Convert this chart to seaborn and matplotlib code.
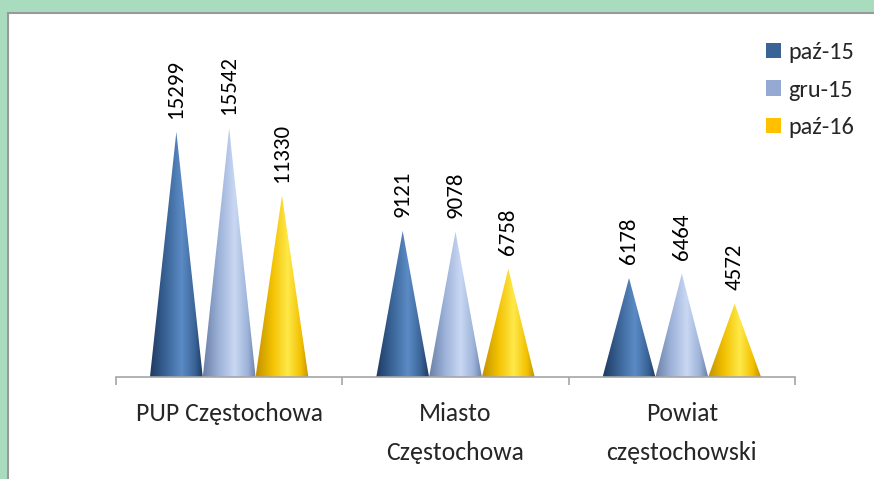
import numpy as np
import pandas as pd
import matplotlib
matplotlib.use("Agg")
import matplotlib.pyplot as plt
import seaborn as sns
from matplotlib.patches import Rectangle, Polygon
from matplotlib.colors import LinearSegmentedColormap

regions = ["PUP Częstochowa", "Miasto\nCzęstochowa", "Powiat\nczęstochowski"]
periods = ["paź-15", "gru-15", "paź-16"]
v_paz15 = [15299, 9121, 6178]
v_gru15 = [15542, 9078, 6464]
v_paz16 = [11330, 6758, 4572]

legend_colors = ["#3B6496", "#95AAD3", "#FFC000"]
grad_colors = [
    ["#1E3A60", "#3A6497", "#5B8BC5", "#3A6497", "#1E3A60"],
    ["#6A7FA6", "#9DB2D9", "#C9D8F3", "#9DB2D9", "#6A7FA6"],
    ["#C29200", "#F2C000", "#FFE94A", "#F2C000", "#C29200"],
]

sns.set_style("white")
plt.rcParams["font.family"] = ["Carlito", "DejaVu Sans"]

df = pd.DataFrame({
    "region": regions * 3,
    "period": [periods[0]] * 3 + [periods[1]] * 3 + [periods[2]] * 3,
    "value": v_paz15 + v_gru15 + v_paz16,
})

W, H = 874, 479
fig = plt.figure(figsize=(W / 100, H / 100), dpi=100)
fig.patch.set_facecolor("#A9DCBF")
panel = Rectangle((8 / W, -0.1), 1.2, (H - 13) / H + 0.1, transform=fig.transFigure,
                  facecolor="white", edgecolor="#999999", lw=1.5, zorder=-10)
fig.add_artist(panel)

ax = fig.add_axes([116 / W, (H - 377) / H, (795 - 116) / W, (377 - 30) / H])
ax.set_zorder(5)
ax.patch.set_alpha(0)
sns.barplot(data=df, x="region", y="value", hue="period", hue_order=periods,
            palette=legend_colors, width=0.7, ax=ax, legend=False, errorbar=None)

bars = [p for p in ax.patches]
for i, p in enumerate(bars):
    s = i // 3
    x0, w, h = p.get_x(), p.get_width(), p.get_height()
    p.set_visible(False)
    tri = Polygon([[x0, 0], [x0 + w, 0], [x0 + w / 2, h]], closed=True,
                  facecolor="none", edgecolor="none")
    ax.add_patch(tri)
    cmap = LinearSegmentedColormap.from_list("g%d" % s, list(zip([0, 0.3, 0.6, 0.85, 1.0], grad_colors[s])))
    grad = np.linspace(0, 1, 256).reshape(1, -1)
    im = ax.imshow(grad, cmap=cmap, extent=[x0, x0 + w, 0, h], aspect="auto",
                   origin="lower", zorder=2, interpolation="bilinear")
    im.set_clip_path(tri)
    ax.annotate(f"{int(h)}", (x0 + w / 2, h), xytext=(0, 10), textcoords="offset points",
                rotation=90, ha="center", va="bottom", fontsize=16.5, color="black")

ax.set_xlim(-0.5, 2.5)
ax.set_ylim(0, 21660)
ax.set_xlabel("")
ax.set_ylabel("")
ax.set_yticks([])
for sp in ["left", "top", "right"]:
    ax.spines[sp].set_visible(False)
ax.spines["bottom"].set_color("#A6A6A6")
ax.spines["bottom"].set_linewidth(1.2)
ax.set_xticks([0, 1, 2])
ax.set_xticklabels(regions, fontsize=18.5, linespacing=1.85, va="top")
ax.tick_params(axis="x", which="major", length=0, pad=18, bottom=False)
ax.set_xticks([-0.5, 0.5, 1.5, 2.5], minor=True)
ax.tick_params(axis="x", which="minor", length=6, color="#A6A6A6", width=1.2,
               direction="out", bottom=True)

handles = [Rectangle((0, 0), 1, 1, facecolor=c, edgecolor="none") for c in legend_colors]
fig.legend(handles, periods, loc="upper left", bbox_to_anchor=(766 / W, 1 - 42 / H),
           frameon=False, fontsize=17.5, handlelength=0.62, handleheight=0.62,
           handletextpad=0.3, labelspacing=0.68, borderaxespad=0, borderpad=0)

fig.savefig("out.png", dpi=100, facecolor=fig.get_facecolor())
